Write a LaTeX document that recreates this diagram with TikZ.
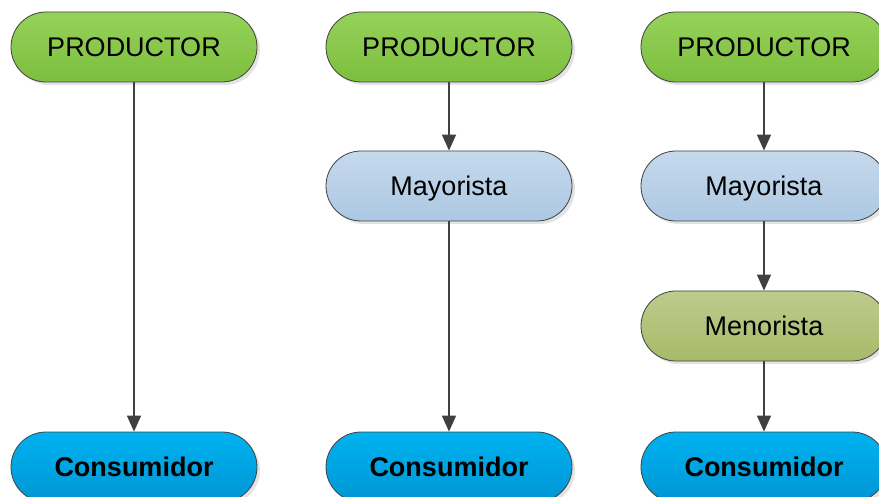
\documentclass[tikz,border=0pt]{standalone}
\usepackage{fontspec}
\setmainfont{Liberation Sans}
\usetikzlibrary{arrows.meta,shadows}
\definecolor{edgegray}{HTML}{404040}
\tikzset{
  stage/.style={draw=edgegray, line width=0.8pt, rounded corners=35pt,
    minimum width=246pt, minimum height=70pt, inner sep=0pt,
    text height=19.5pt, text depth=0pt,
    font=\fontsize{27}{31}\selectfont,
    drop shadow={shadow xshift=3pt, shadow yshift=-3pt, fill=black!18, opacity=0.6}},
  prodc/.style={stage, top color={rgb,255:red,150;green,210;blue,90}, bottom color={rgb,255:red,124;green,190;blue,62}},
  mayor/.style={stage, top color={rgb,255:red,198;green,217;blue,236}, bottom color={rgb,255:red,172;green,200;blue,227}},
  menor/.style={stage, top color={rgb,255:red,190;green,203;blue,140}, bottom color={rgb,255:red,168;green,186;blue,106}},
  consu/.style={stage, top color={rgb,255:red,0;green,178;blue,240}, bottom color={rgb,255:red,0;green,150;blue,212}, font=\fontsize{27}{31}\selectfont\bfseries},
  flow/.style={draw=edgegray, line width=1.6pt, -{Triangle[length=16pt,width=14pt]}}
}
\begin{document}
\begin{tikzpicture}[x=1pt,y=-1pt]
\useasboundingbox (0,0) rectangle (879,497);
% direct channel
\node[prodc] (p1) at (134,47) {PRODUCTOR};
\node[consu] (c1) at (134,467) {Consumidor};
% channel with wholesaler
\node[prodc] (p2) at (449,47) {PRODUCTOR};
\node[mayor] (m2) at (449,186) {Mayorista};
\node[consu] (c2) at (449,467) {Consumidor};
% channel with wholesaler and retailer
\node[prodc] (p3) at (764,47) {PRODUCTOR};
\node[mayor] (m3) at (764,186) {Mayorista};
\node[menor] (r3) at (764,326) {Menorista};
\node[consu] (c3) at (764,467) {Consumidor};
\draw[flow] (p1) -- (c1);
\draw[flow] (p2) -- (m2);
\draw[flow] (m2) -- (c2);
\draw[flow] (p3) -- (m3);
\draw[flow] (m3) -- (r3);
\draw[flow] (r3) -- (c3);
\end{tikzpicture}
\end{document}
